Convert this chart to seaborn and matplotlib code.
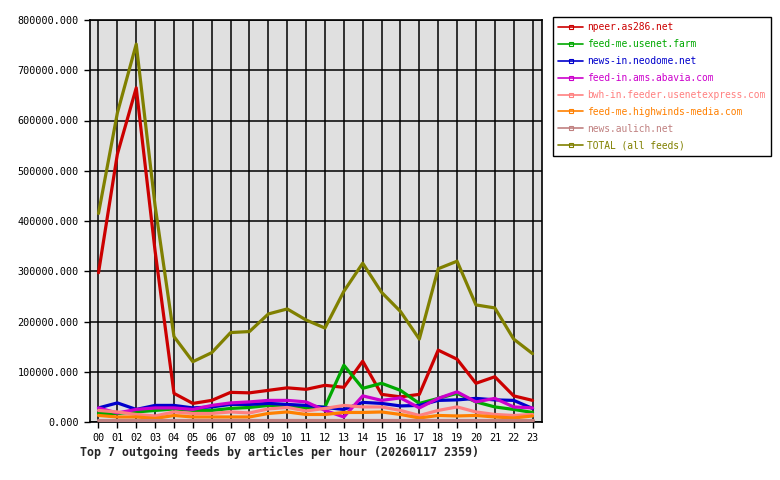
import pandas as pd
import seaborn as sns
import numpy as np
import matplotlib.pyplot as plt

hours = ["%02d" % h for h in range(24)]

feeds = ["npeer.as286.net", "feed-me.usenet.farm", "news-in.neodome.net",
         "feed-in.ams.abavia.com", "bwh-in.feeder.usenetexpress.com",
         "feed-me.highwinds-media.com", "news.aulich.net", "TOTAL (all feeds)"]
colores = ["#CC0000", "#00A800", "#0000CC", "#CC00CC", "#FF8080", "#FF8000", "#C08080", "#808000"]

npeer = [297000, 533000, 665000, 340000, 57000, 37000, 43000, 59000, 58000, 63000, 68000, 65000,
         73000, 69000, 121000, 55000, 50000, 55000, 143000, 125000, 77000, 90000, 52000, 43000]
usenet_farm = [17000, 17000, 20000, 23000, 26000, 23000, 23000, 27000, 29000, 33000, 33000, 28000,
               30000, 113000, 67000, 77000, 63000, 37000, 47000, 57000, 40000, 30000, 25000, 19000]
neodome = [28000, 38000, 25000, 33000, 33000, 28000, 30000, 35000, 35000, 37000, 35000, 33000,
           29000, 25000, 39000, 37000, 32000, 33000, 43000, 44000, 47000, 44000, 43000, 27000]
abavia = [28000, 18000, 25000, 28000, 28000, 25000, 33000, 38000, 40000, 43000, 43000, 40000,
          23000, 10000, 52000, 43000, 48000, 28000, 47000, 60000, 40000, 47000, 30000, 28000]
usenetexpress = [23000, 20000, 15000, 12000, 20000, 17000, 17000, 20000, 18000, 26000, 29000, 22000,
                 27000, 33000, 30000, 30000, 23000, 13000, 23000, 30000, 20000, 15000, 13000, 15000]
highwinds = [13000, 10000, 10000, 7000, 13000, 10000, 10000, 10000, 10000, 17000, 20000, 15000,
             15000, 19000, 19000, 20000, 15000, 8000, 13000, 12000, 13000, 10000, 8000, 12000]
aulich = [4000] * 24
total = [415000, 615000, 752000, 430000, 170000, 120000, 138000, 178000, 180000, 215000, 225000, 203000,
         187000, 260000, 316000, 258000, 220000, 165000, 305000, 320000, 233000, 227000, 165000, 136000]

series = [npeer, usenet_farm, neodome, abavia, usenetexpress, highwinds, aulich, total]
rows = []
for f, vals in zip(feeds, series):
    for h, v in enumerate(vals):
        rows.append({"hora": h, "articulos": v, "feed": f})
df = pd.DataFrame(rows)

sns.set_style("white")
plt.rcParams['font.family'] = ['DejaVu Sans Mono']
plt.rcParams['font.size'] = 7.2

fig = plt.figure(figsize=(7.8, 4.8), dpi=100)
ax = fig.add_axes([90 / 780, 1 - 422 / 480, 452 / 780, 402 / 480])
ax.set_facecolor("#E0E0E0")

sns.lineplot(data=df, x="hora", y="articulos", hue="feed", hue_order=feeds,
             palette=colores, linewidth=2.3, ax=ax, legend=False, zorder=3)

ax.set_xlim(-0.45, 23.5)
ax.set_ylim(0, 800000)
ax.set_xticks(range(24))
ax.set_xticklabels(hours)
ax.set_yticks(np.arange(0, 800001, 100000))
ax.set_yticklabels(["%.3f" % v for v in np.arange(0, 800001, 100000)])
ax.grid(True, color="black", linewidth=1.1, zorder=1)
ax.set_axisbelow(True)
ax.tick_params(axis="both", direction="out", length=4, width=1, color="black",
               labelsize=7.3, labelcolor="black", bottom=True, left=True, pad=4)
ax.set_xlabel("")
ax.set_ylabel("")
for s in ax.spines.values():
    s.set_color("black")
    s.set_linewidth(1.2)

handles = [plt.Line2D([], [], color=c, linewidth=1.2, marker="s", markersize=3,
                      markerfacecolor="none", markeredgewidth=0.8) for c in colores]
leg = fig.legend(handles, feeds, loc="upper left", bbox_to_anchor=(553 / 780, 1 - 17 / 480),
                 frameon=True, fancybox=False, framealpha=1, edgecolor="black",
                 labelcolor=colores, fontsize=6.9, handlelength=2.6, handletextpad=0.4,
                 borderpad=0.55, labelspacing=0.72, borderaxespad=0)
leg.get_frame().set_linewidth(1.0)

fig.text(80 / 780, 1 - 452 / 480, "Top 7 outgoing feeds by articles per hour (20260117 2359)",
         fontsize=8.4, fontweight="bold", va="center", ha="left")

fig.savefig("out.png", dpi=100)
